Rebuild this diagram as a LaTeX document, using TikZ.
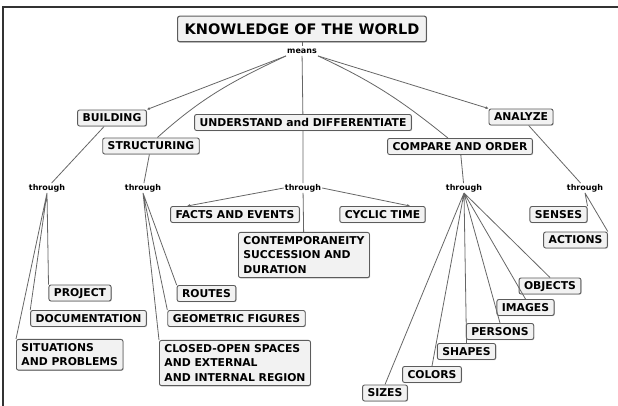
\documentclass[tikz,border=0pt]{standalone}
\usepackage{fontspec}
\newfontfamily\mapfont{DejaVu Sans}
\usetikzlibrary{arrows.meta,shadows}
\definecolor{BoxClr}{rgb}{0.36,0.36,0.36}
\definecolor{FillClr}{rgb}{0.95,0.95,0.95}
\definecolor{LineClr}{rgb}{0.40,0.40,0.40}
\definecolor{HaloClr}{rgb}{0.78,0.78,0.78}
\newcommand\boxfont{\mapfont\bfseries\fontsize{10.8}{14.5}\selectfont}
\newcommand\titlefont{\mapfont\bfseries\fontsize{14.5}{17}\selectfont}
\newcommand\linkfont{\mapfont\bfseries\fontsize{8}{9}\selectfont}

\begin{document}
\begin{tikzpicture}[x=1pt,y=1pt,
  box/.style={draw=BoxClr,fill=FillClr,line width=0.9pt,rounded corners=2pt,font=\boxfont,inner xsep=5pt,inner ysep=4pt,
    drop shadow={shadow xshift=0.7pt,shadow yshift=-0.7pt,fill=HaloClr,opacity=1}},
  lbl/.style={box,text height=8pt,text depth=0pt},
  multi/.style={box,align=left,anchor=north west},
  titlebox/.style={box,line width=1.1pt,font=\titlefont,inner xsep=7pt,inner ysep=7.5pt,text height=10.6pt,text depth=0pt},
  link/.style={font=\linkfont,inner sep=1pt,text height=6pt,text depth=1.5pt},
  conn/.style={draw=LineClr,line width=0.8pt},
  tip/.style={conn,-{Latex[length=3pt,width=3pt]}}]
\useasboundingbox (0,0) rectangle (618,406);
\draw[line width=1.3pt,color=black!80] (3,0) -- (3,399) -- (618,399);

\node[titlebox] (world) at (302,377) {KNOWLEDGE OF THE WORLD};
\node[link] (means) at (302,355) {means};

\node[lbl] (building) at (112,288) {BUILDING};
\node[lbl] (understand) at (303,283.5) {UNDERSTAND and DIFFERENTIATE};
\node[lbl] (analyze) at (521,289) {ANALYZE};
\node[lbl] (structuring) at (151,260) {STRUCTURING};
\node[lbl] (compare) at (460,259.5) {COMPARE AND ORDER};

\node[link] (thr1) at (47,218) {through};
\node[link] (thr2) at (143,218) {through};
\node[link] (thr3) at (303,218) {through};
\node[link] (thr4) at (464,218) {through};
\node[link] (thr5) at (585,218) {through};

\node[lbl] (facts) at (235,191.5) {FACTS AND EVENTS};
\node[lbl] (cyclic) at (382.5,191.5) {CYCLIC TIME};
\node[multi] (contemp) at (238,174) {CONTEMPORANEITY\\SUCCESSION AND\\DURATION};
\node[lbl] (senses) at (558.5,191.5) {SENSES};
\node[lbl] (actions) at (575.5,166) {ACTIONS};

\node[lbl] (project) at (80,113) {PROJECT};
\node[lbl] (documentation) at (88.5,87.5) {DOCUMENTATION};
\node[multi] (situations) at (16,67) {SITUATIONS\\AND PROBLEMS};
\node[lbl] (routes) at (206.5,112.5) {ROUTES};
\node[lbl] (geometric) at (236.5,87.5) {GEOMETRIC FIGURES};
\node[multi] (closed) at (159,66) {CLOSED-OPEN SPACES\\AND EXTERNAL\\AND INTERNAL REGION};

\node[lbl] (objects) at (550,120) {OBJECTS};
\node[lbl] (images) at (525.5,98.5) {IMAGES};
\node[lbl] (persons) at (500,74.5) {PERSONS};
\node[lbl] (shapes) at (466.5,54.5) {SHAPES};
\node[lbl] (colors) at (432,31.5) {COLORS};
\node[lbl] (sizes) at (385,13) {SIZES};

\draw[conn] (world) -- (means);
\draw[tip] (means.south west) -- (building.north east);
\draw[tip] (means.south east) -- (analyze.north west);
\draw[conn] (means) -- (understand);
\draw[conn] (means.south west) to[out=205,in=42] (structuring.53);
\draw[conn] (means.south east) to[out=-25,in=141] (compare.145);

\draw[conn] (building) -- (thr1) (structuring) -- (thr2) (understand) -- (thr3)
  (compare) -- (thr4) (analyze) -- (thr5);

\draw[conn] (thr1.south) -- (project.north west) (thr1.south) -- (documentation.north west)
  (thr1.south) -- (situations.north west);
\draw[conn] (thr2.south) -- (routes.north west) (thr2.south) -- (geometric.north west)
  (thr2.south) -- (closed.north west);

\draw[tip] (thr3.west) -- (facts.170);
\draw[tip] (thr3.east) -- (cyclic.17);
\draw[conn] (thr3) -- (contemp);

\draw[conn] (thr4.south) -- (sizes.north) (thr4.south) -- (colors.north)
  (thr4.south) -- (shapes.north) (thr4.south) -- (persons.north)
  (thr4.south) -- (images.north) (thr4.south) -- (objects.north);

\draw[conn] (thr5.south) -- (senses.north east) (thr5.south) -- (actions.north east);

\end{tikzpicture}
\end{document}
